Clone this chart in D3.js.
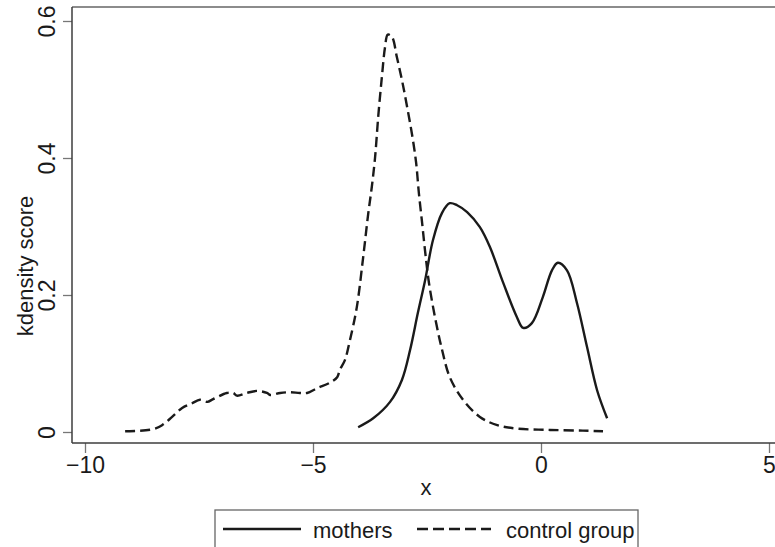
<!DOCTYPE html>
<html>
<head>
<meta charset="utf-8">
<script src="https://cdn.jsdelivr.net/npm/d3@7"></script>
<style>
  body { margin: 0; background: #fff; }
  svg text { font-family: "Liberation Sans", Arial, sans-serif; fill: #1a1a1a; }
</style>
</head>
<body>
<div id="chart"></div>
<script>
// kernel density estimates: [x, density]
const controlGroup = [
  [-9.12, 0.001], [-8.51, 0.004], [-8.31, 0.010], [-8.09, 0.022], [-7.87, 0.035],
  [-7.65, 0.042], [-7.48, 0.047], [-7.32, 0.044], [-7.19, 0.048], [-6.89, 0.057],
  [-6.75, 0.057], [-6.67, 0.053], [-6.45, 0.057], [-6.23, 0.060], [-6.01, 0.057],
  [-5.94, 0.054], [-5.72, 0.057], [-5.50, 0.058], [-5.29, 0.057], [-5.13, 0.057],
  [-4.91, 0.064], [-4.63, 0.072], [-4.47, 0.080], [-4.41, 0.091], [-4.30, 0.105],
  [-4.19, 0.134], [-4.04, 0.182], [-3.90, 0.255], [-3.79, 0.318], [-3.71, 0.358],
  [-3.64, 0.400], [-3.57, 0.460], [-3.49, 0.518], [-3.42, 0.562], [-3.36, 0.580],
  [-3.27, 0.577], [-3.16, 0.547], [-3.05, 0.514], [-2.94, 0.476], [-2.83, 0.435],
  [-2.74, 0.394], [-2.68, 0.350], [-2.61, 0.307], [-2.54, 0.263], [-2.46, 0.219],
  [-2.32, 0.166], [-2.17, 0.120], [-2.00, 0.080], [-1.71, 0.047], [-1.34, 0.022],
  [-0.96, 0.010], [-0.53, 0.005], [0.20, 0.003], [0.92, 0.002], [1.36, 0.001]
];

const mothers = [
  [-4.01, 0.007], [-3.68, 0.020], [-3.31, 0.044], [-3.05, 0.076], [-2.87, 0.120],
  [-2.70, 0.174], [-2.54, 0.222], [-2.37, 0.280], [-2.17, 0.320], [-2.00, 0.334],
  [-1.84, 0.331], [-1.62, 0.321], [-1.34, 0.299], [-1.12, 0.270], [-0.83, 0.218],
  [-0.53, 0.168], [-0.39, 0.152], [-0.20, 0.159], [0.04, 0.197], [0.24, 0.236],
  [0.37, 0.247], [0.57, 0.236], [0.79, 0.188], [1.01, 0.124], [1.23, 0.061],
  [1.45, 0.020]
];

const xTicks = [-10, -5, 0, 5];
const yTicks = [0, 0.2, 0.4, 0.6];
const seriesNames = ["mothers", "control group"];

const W = 775, H = 547;
const frame = { left: 72, top: 7, bottom: 443 };

const svg = d3.select("#chart").append("svg")
  .attr("width", W)
  .attr("height", H);

const x = d3.scaleLinear().domain([-10, 5]).range([85, 769]);
const y = d3.scaleLinear().domain([0, 0.6]).range([432, 21]);

const axisColor = "#3c3c3c";
const fmtX = d => d < 0 ? "\u2212" + Math.abs(d) : String(d);

// x axis
const gx = svg.append("g")
  .attr("transform", `translate(0,${frame.bottom})`)
  .call(d3.axisBottom(x).tickValues(xTicks).tickSize(10).tickPadding(4).tickFormat(fmtX));
gx.select(".domain").remove();
gx.selectAll("line").attr("stroke", "#777").attr("stroke-width", 1.3);
gx.selectAll("text").style("font-size", "23px");

// y axis with vertical labels
const gy = svg.append("g")
  .attr("transform", `translate(${frame.left},0)`)
  .call(d3.axisLeft(y).tickValues(yTicks).tickSize(9).tickFormat(d => d === 0 ? "0" : d3.format(".1f")(d)));
gy.select(".domain").remove();
gy.selectAll("line").attr("stroke", "#777").attr("stroke-width", 1.3);
gy.selectAll("text")
  .style("font-size", "23px")
  .attr("transform", "rotate(-90)")
  .attr("x", 0)
  .attr("y", -17)
  .attr("dy", null)
  .attr("text-anchor", "middle");

// frame lines (plot region runs off the right edge)
svg.append("line").attr("x1", frame.left).attr("x2", W).attr("y1", frame.top).attr("y2", frame.top)
  .attr("stroke", "#666").attr("stroke-width", 1.3);
svg.append("line").attr("x1", frame.left).attr("x2", frame.left).attr("y1", frame.top).attr("y2", frame.bottom)
  .attr("stroke", axisColor).attr("stroke-width", 1.5);
svg.append("line").attr("x1", frame.left).attr("x2", W).attr("y1", frame.bottom).attr("y2", frame.bottom)
  .attr("stroke", axisColor).attr("stroke-width", 1.5);

// axis titles
svg.append("text")
  .attr("x", 426).attr("y", 495)
  .attr("text-anchor", "middle")
  .style("font-size", "22px")
  .text("x");

svg.append("text")
  .attr("transform", "translate(33,266) rotate(-90)")
  .attr("text-anchor", "middle")
  .style("font-size", "22px")
  .text("kdensity score");

// curves
const line = d3.line()
  .x(d => x(d[0]))
  .y(d => y(d[1]))
  .curve(d3.curveCatmullRom.alpha(0.5));

svg.append("path")
  .datum(controlGroup)
  .attr("fill", "none")
  .attr("stroke", "#1a1a1a")
  .attr("stroke-width", 2.4)
  .attr("stroke-linejoin", "round")
  .attr("stroke-dasharray", "10,5")
  .attr("d", line);

svg.append("path")
  .datum(mothers)
  .attr("fill", "none")
  .attr("stroke", "#1a1a1a")
  .attr("stroke-width", 2.4)
  .attr("stroke-linejoin", "round")
  .attr("d", line);

// legend
const legend = svg.append("g");
legend.append("rect")
  .attr("x", 215).attr("y", 510)
  .attr("width", 423).attr("height", 60)
  .attr("fill", "#fff")
  .attr("stroke", "#666").attr("stroke-width", 1.3);

legend.append("line")
  .attr("x1", 223).attr("x2", 301).attr("y1", 529).attr("y2", 529)
  .attr("stroke", "#1a1a1a").attr("stroke-width", 2.4);
legend.append("text")
  .attr("x", 313).attr("y", 538)
  .style("font-size", "22px")
  .text(seriesNames[0]);

legend.append("line")
  .attr("x1", 417).attr("x2", 491).attr("y1", 529).attr("y2", 529)
  .attr("stroke", "#1a1a1a").attr("stroke-width", 2.4)
  .attr("stroke-dasharray", "11,5");
legend.append("text")
  .attr("x", 506).attr("y", 538)
  .style("font-size", "22px")
  .text(seriesNames[1]);
</script>
</body>
</html>
